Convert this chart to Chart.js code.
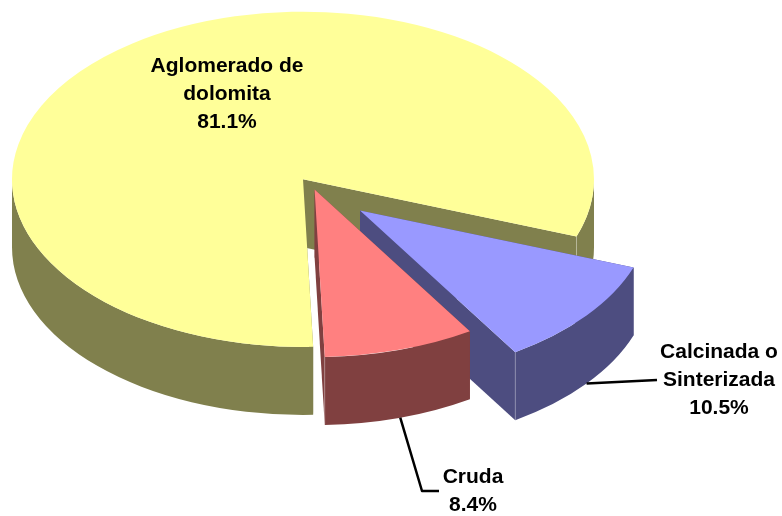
<!DOCTYPE html>
<html>
<head>
<meta charset="utf-8">
<style>
    html, body { margin: 0; padding: 0; background: #fff; }
    canvas { display: block; }
</style>
<script src="https://cdn.jsdelivr.net/npm/chart.js@4"></script>
</head>
<body>
<canvas id="pieChart" width="782" height="516"></canvas>
<script>
const categories = ['Aglomerado de dolomita', 'Calcinada o Sinterizada', 'Cruda'];
const shares = [81.1, 10.5, 8.4];
const labelLines = [['Aglomerado de', 'dolomita'], ['Calcinada o', 'Sinterizada'], ['Cruda']];

const topColors = ['#FFFF99', '#9999FF', '#FF8080'];
const wallColors = ['#80804D', '#4D4D80', '#804040'];

// Look of the fake 3D pie
const squash = 0.576;
const depth = 68;
const pieCenter = { x: 303, y: 179.3 };
const sliceShift = [[0, 0], [57, 54], [11.6, 17.5]];
const labelPos = [{ x: 227, y: 72 }, { x: 719, y: 358 }, { x: 473, y: 483 }];
const leaderEnds = [null, [[657, 380]], [[422, 491], [439, 491]]];

function tilt(ctx, chart) {
    ctx.translate(pieCenter.x, pieCenter.y);
    ctx.scale(1, squash);
    ctx.translate(-chart.width / 2, -chart.height / 2);
}

// Front-facing parts of an arc, angles in radians
function frontRanges(start, end) {
    const ranges = [];
    for (let k = 0; k < 2; k++) {
        const a = Math.max(start, k * 2 * Math.PI);
        const b = Math.min(end, k * 2 * Math.PI + Math.PI);
        if (b > a) ranges.push([a, b]);
    }
    return ranges;
}

const tiltedPie = {
    id: 'tiltedPie',
    afterDatasetsUpdate(chart) {
        // Chart.js offset also grows the radius, so move the slices by hand
        chart.getDatasetMeta(0).data.forEach((arc, i) => {
            arc.x = chart.width / 2 + sliceShift[i][0];
            arc.y = chart.height / 2 + sliceShift[i][1];
        });
    },
    beforeDatasetsDraw(chart) {
        const ctx = chart.ctx;
        const d = depth / squash;
        ctx.save();
        tilt(ctx, chart);
        chart.getDatasetMeta(0).data.forEach((arc, i) => {
            const r = arc.outerRadius;
            ctx.fillStyle = wallColors[i];

            // Cut faces
            [arc.startAngle, arc.endAngle].forEach(angle => {
                ctx.beginPath();
                ctx.moveTo(arc.x, arc.y);
                ctx.lineTo(arc.x + r * Math.cos(angle), arc.y + r * Math.sin(angle));
                ctx.lineTo(arc.x + r * Math.cos(angle), arc.y + r * Math.sin(angle) + d);
                ctx.lineTo(arc.x, arc.y + d);
                ctx.closePath();
                ctx.fill();
            });

            // Outer wall
            frontRanges(arc.startAngle, arc.endAngle).forEach(([a, b]) => {
                ctx.beginPath();
                ctx.arc(arc.x, arc.y, r, a, b);
                ctx.arc(arc.x, arc.y + d, r, b, a, true);
                ctx.closePath();
                ctx.fill();
            });

            // Light seam where the cut face meets the wall
            const ex = arc.x + r * Math.cos(arc.endAngle);
            const ey = arc.y + r * Math.sin(arc.endAngle);
            if (Math.sin(arc.endAngle) > 0) {
                ctx.strokeStyle = 'rgba(255,255,255,0.3)';
                ctx.lineWidth = 1;
                ctx.beginPath();
                ctx.moveTo(ex, ey);
                ctx.lineTo(ex, ey + d);
                ctx.stroke();
            }
        });
        ctx.restore();

        // Tops are drawn by Chart.js in the same tilted space
        ctx.save();
        tilt(ctx, chart);
    },
    afterDatasetsDraw(chart) {
        const ctx = chart.ctx;
        ctx.restore();

        // Leader lines start at the bottom of the wall, mid slice
        ctx.strokeStyle = '#000';
        ctx.lineWidth = 2.5;
        ctx.lineJoin = 'round';
        chart.getDatasetMeta(0).data.forEach((arc, i) => {
            if (!leaderEnds[i]) return;
            const mid = (arc.startAngle + arc.endAngle) / 2;
            const sx = pieCenter.x + (arc.x - chart.width / 2) + arc.outerRadius * Math.cos(mid);
            const sy = pieCenter.y + (arc.y - chart.height / 2) * squash + arc.outerRadius * Math.sin(mid) * squash + depth;
            ctx.beginPath();
            ctx.moveTo(sx, sy);
            leaderEnds[i].forEach(p => ctx.lineTo(p[0], p[1]));
            ctx.stroke();
        });

        // Labels
        ctx.fillStyle = '#000';
        ctx.font = 'bold 21px "Liberation Sans", Arial, sans-serif';
        ctx.textAlign = 'center';
        ctx.textBaseline = 'alphabetic';
        labelLines.forEach((lines, i) => {
            const all = lines.concat(shares[i].toFixed(1) + '%');
            all.forEach((text, n) => {
                ctx.fillText(text, labelPos[i].x, labelPos[i].y + n * 28);
            });
        });
    }
};

const pieChart = new Chart(document.getElementById('pieChart'), {
    type: 'pie',
    data: {
        labels: categories,
        datasets: [{
            data: shares,
            backgroundColor: topColors,
            borderWidth: 0,
            clip: false
        }]
    },
    options: {
        responsive: false,
        animation: false,
        events: [],
        rotation: 178,
        radius: 291,
        plugins: {
            legend: { display: false },
            tooltip: { enabled: false }
        }
    },
    plugins: [tiltedPie]
});
</script>
</body>
</html>
